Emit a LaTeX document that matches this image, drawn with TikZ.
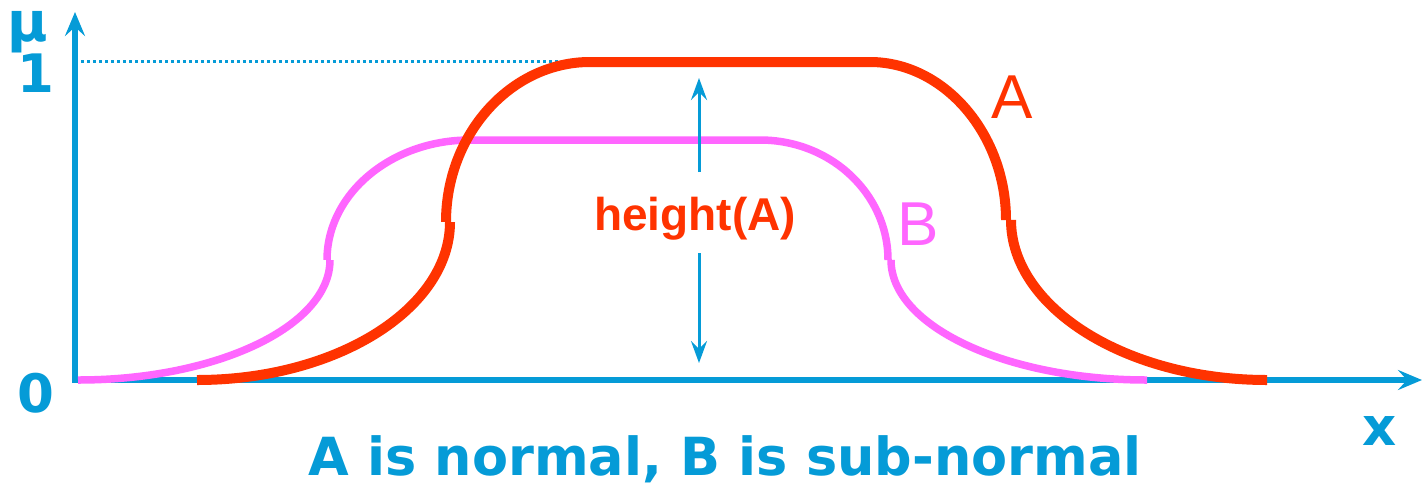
\documentclass[tikz,border=0pt]{standalone}
\usepackage{fontspec}
\setmainfont{DejaVu Sans}
\newfontfamily\arialfont{Liberation Sans}
\usepackage{tikz}
\usetikzlibrary{arrows.meta}

\definecolor{axisblue}{RGB}{5,155,215}
\definecolor{curvered}{RGB}{255,51,0}
\definecolor{curvepink}{RGB}{255,102,255}

\begin{document}
\begin{tikzpicture}[
  x=1pt, y=-1pt,
  axisline/.style={draw=axisblue, line width=5.5pt, -{Stealth[length=24pt, width=20pt, inset=9pt]}},
  axislabel/.style={text=axisblue, font=\fontsize{53}{60}\selectfont\bfseries, anchor=base, inner sep=0pt},
  setA/.style={draw=curvered, line width=10pt},
  setB/.style={draw=curvepink, line width=7.5pt},
  heightmap/.style={->, draw=axisblue, line width=3pt, >={Stealth[length=22pt, width=16pt, inset=8pt]}}
]
  \useasboundingbox[fill=white] (0,0) rectangle (1423,485);

  % axes
  \coordinate (origin) at (75,380);
  \coordinate (ytip) at (75,12);
  \coordinate (xtip) at (1422,380);
  \draw[axisline] (75,382.75) -- (ytip);
  \draw[axisline] (72.25,380) -- (xtip);
  \draw[axisblue, line width=3pt, dash pattern=on 3pt off 3pt] (81,61) -- (575,61);

  \node[axislabel, font=\fontsize{55}{60}\selectfont\bfseries] (mu) at (28,41) {μ};
  \node[axislabel] (one) at (36,92) {1};
  \node[axislabel] (zero) at (36,412) {0};
  \node[axislabel] (xlab) at (1380,445) {x};

  % set B (sub-normal)
  \draw[setB] (78,380) .. controls (217,380) and (330,326) .. (330,260);
  \draw[setB] (327,260) .. controls (327,194) and (391,140) .. (470,140)
    -- (760,140) .. controls (831,140) and (888,194) .. (888,260);
  \draw[setB] (891,260) .. controls (891,326) and (1006,380) .. (1147,380);

  % set A (normal)
  \draw[setA] (197,380) .. controls (336,380) and (450,309) .. (450,222);
  \draw[setA] (446,222) .. controls (446,134) and (511,62) .. (590,62)
    -- (870,62) .. controls (944,62) and (1006,134) .. (1006,220);
  \draw[setA] (1011,220) .. controls (1011,308) and (1127,380) .. (1267,380);

  % height arrows
  \coordinate (hup) at (699,172);
  \coordinate (htop) at (699,78);
  \coordinate (hdown) at (699,253);
  \coordinate (hbot) at (699,363);
  \draw[heightmap] (hup) -- (htop);
  \draw[heightmap] (hdown) -- (hbot);

  \node[text=curvered, font=\arialfont\fontsize{46}{52}\selectfont\bfseries, anchor=base, inner sep=0pt] (hlabel) at (695,230) {height(A)};
  \node[text=curvered, font=\arialfont\fontsize{62}{70}\selectfont, anchor=base, inner sep=0pt] (labA) at (1012,118) {A};
  \node[text=curvepink, font=\arialfont\fontsize{62}{70}\selectfont, anchor=base, inner sep=0pt] (labB) at (918,245) {B};

  \node[text=axisblue, font=\fontsize{52.5}{60}\selectfont\bfseries, anchor=base, inner sep=0pt] (caption) at (725,475) {A is normal, B is sub-normal};
\end{tikzpicture}
\end{document}
